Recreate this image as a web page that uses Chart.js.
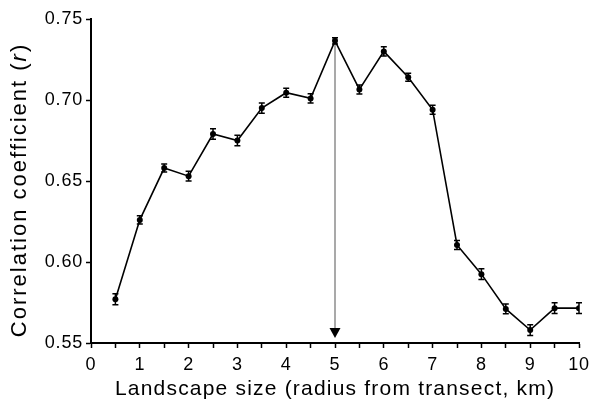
<!DOCTYPE html>
<html>
<head>
<meta charset="utf-8">
<script src="https://cdn.jsdelivr.net/npm/chart.js@4.4.0/dist/chart.umd.min.js"></script>
<style>
  html, body { margin: 0; padding: 0; background: #fff; }
  canvas { display: block; }
</style>
</head>
<body>
<canvas id="canvas" width="589" height="403"></canvas>
<script>
// landscape radius (km) and correlation r with its error
var radiusKm = [0.5, 1, 1.5, 2, 2.5, 3, 3.5, 4, 4.5, 5, 5.5, 6, 6.5, 7, 7.5, 8, 8.5, 9, 9.5, 10];
var corrR    = [0.577, 0.626, 0.658, 0.653, 0.679, 0.675, 0.695, 0.7045, 0.701, 0.7365,
                0.7065, 0.730, 0.714, 0.694, 0.6105, 0.5925, 0.571, 0.558, 0.5715, 0.5715];
var corrErr  = [0.0034, 0.0025, 0.0025, 0.003, 0.0033, 0.0033, 0.0032, 0.0028, 0.0028, 0.002,
                0.0028, 0.0028, 0.0025, 0.0028, 0.0028, 0.0033, 0.003, 0.0033, 0.0033, 0.0033];
var optimumKm = 5;
var xTicks = [0, 1, 2, 3, 4, 5, 6, 7, 8, 9, 10];
var yTicks = [0.55, 0.60, 0.65, 0.70, 0.75];

var fontFam = "'Liberation Sans', Arial, Helvetica, sans-serif";

var points = radiusKm.map(function(x, i){ return {x: x, y: corrR[i]}; });

// wider letter spacing for the tick labels, like the original
var spacing = {
    id: 'spacing',
    beforeDraw: function(chart){ chart.ctx.letterSpacing = '0.8px'; },
    afterDraw: function(chart){ chart.ctx.letterSpacing = '0px'; }
};

// error bars drawn on top of the line
var errorBars = {
    id: 'errorBars',
    afterDatasetsDraw: function(chart){
        var ctx = chart.ctx, xs = chart.scales.x, ys = chart.scales.y;
        ctx.save();
        ctx.strokeStyle = '#000';
        ctx.lineWidth = 1.5;
        for (var i = 0; i < radiusKm.length; i++) {
            var px = xs.getPixelForValue(radiusKm[i]);
            var top = ys.getPixelForValue(corrR[i] + corrErr[i]);
            var bot = ys.getPixelForValue(corrR[i] - corrErr[i]);
            ctx.beginPath();
            ctx.moveTo(px, top); ctx.lineTo(px, bot);
            ctx.moveTo(px - 3, top); ctx.lineTo(px + 3, top);
            ctx.moveTo(px - 3, bot); ctx.lineTo(px + 3, bot);
            ctx.stroke();
        }
        ctx.restore();
    }
};

// grey drop line with arrow at the optimum landscape size
var optimumArrow = {
    id: 'optimumArrow',
    beforeDatasetsDraw: function(chart){
        var ctx = chart.ctx, xs = chart.scales.x, ys = chart.scales.y;
        var idx = radiusKm.indexOf(optimumKm);
        var px = xs.getPixelForValue(optimumKm);
        var y0 = ys.getPixelForValue(corrR[idx]);
        var tip = chart.chartArea.bottom - 5;
        ctx.save();
        ctx.strokeStyle = '#8c8c8c';
        ctx.lineWidth = 1.5;
        ctx.beginPath();
        ctx.moveTo(px, y0); ctx.lineTo(px, tip - 8);
        ctx.stroke();
        ctx.fillStyle = '#000';
        ctx.beginPath();
        ctx.moveTo(px - 5.5, tip - 10);
        ctx.lineTo(px + 5.5, tip - 10);
        ctx.lineTo(px, tip);
        ctx.closePath();
        ctx.fill();
        ctx.restore();
    }
};

// axis titles (y title has an italic r)
var axisTitles = {
    id: 'axisTitles',
    afterDraw: function(chart){
        var ctx = chart.ctx, a = chart.chartArea;
        ctx.save();
        ctx.fillStyle = '#000';
        ctx.letterSpacing = '1.2px';
        ctx.font = '21px ' + fontFam;
        ctx.textAlign = 'center';
        ctx.textBaseline = 'middle';
        ctx.fillText('Landscape size (radius from transect, km)', (a.left + a.right) / 2 + 0, 389);

        ctx.letterSpacing = '2px';
        ctx.translate(20, (a.top + a.bottom) / 2 + 9);
        ctx.rotate(-Math.PI / 2);
        var parts = [['Correlation coefficient (', '22px ' + fontFam],
                     ['r', 'italic 22px ' + fontFam],
                     [')', '22px ' + fontFam]];
        var total = 0;
        parts.forEach(function(p){ ctx.font = p[1]; total += ctx.measureText(p[0]).width; });
        var x = -total / 2;
        ctx.textAlign = 'left';
        parts.forEach(function(p){
            ctx.font = p[1];
            ctx.fillText(p[0], x, 0);
            x += ctx.measureText(p[0]).width;
        });
        ctx.restore();
    }
};

var ctx = document.getElementById('canvas').getContext('2d');
new Chart(ctx, {
    type: 'scatter',
    data: {
        datasets: [{
            data: points,
            showLine: true,
            borderColor: '#000',
            borderWidth: 1.6,
            backgroundColor: '#000',
            pointRadius: 3,
            pointHoverRadius: 3,
            pointBorderWidth: 0,
            tension: 0
        }]
    },
    options: {
        responsive: false,
        animation: false,
        layout: { padding: { left: 0, right: 10, top: 19, bottom: 0 } },
        plugins: { legend: { display: false }, tooltip: { enabled: false } },
        scales: {
            x: {
                type: 'linear',
                min: 0, max: 10,
                afterFit: function(s){ s.height = 60; s.paddingLeft = 0; s.paddingRight = 0; },
                afterBuildTicks: function(s){
                    var t = [];
                    for (var v = 0; v <= 20; v++) t.push({value: v / 2});
                    s.ticks = t;
                },
                ticks: {
                    color: '#000',
                    font: { size: 18, family: fontFam },
                    padding: 6,
                    maxRotation: 0,
                    autoSkip: false,
                    callback: function(v){ return xTicks.indexOf(v) >= 0 ? String(v) : ''; }
                },
                grid: { drawOnChartArea: false, tickLength: 5, tickColor: '#000', tickWidth: 1.5 },
                border: { color: '#000', width: 2 }
            },
            y: {
                min: 0.55, max: 0.75,
                afterFit: function(s){ s.width = 91; s.paddingTop = 0; s.paddingBottom = 0; },
                afterBuildTicks: function(s){
                    s.ticks = yTicks.map(function(v){ return {value: v}; });
                },
                ticks: {
                    color: '#000',
                    font: { size: 18, family: fontFam },
                    padding: 3,
                    callback: function(v){ return v.toFixed(2); }
                },
                grid: { drawOnChartArea: false, tickLength: 5, tickColor: '#000', tickWidth: 1.5 },
                border: { color: '#000', width: 2 }
            }
        }
    },
    plugins: [spacing, optimumArrow, errorBars, axisTitles]
});
</script>
</body>
</html>
